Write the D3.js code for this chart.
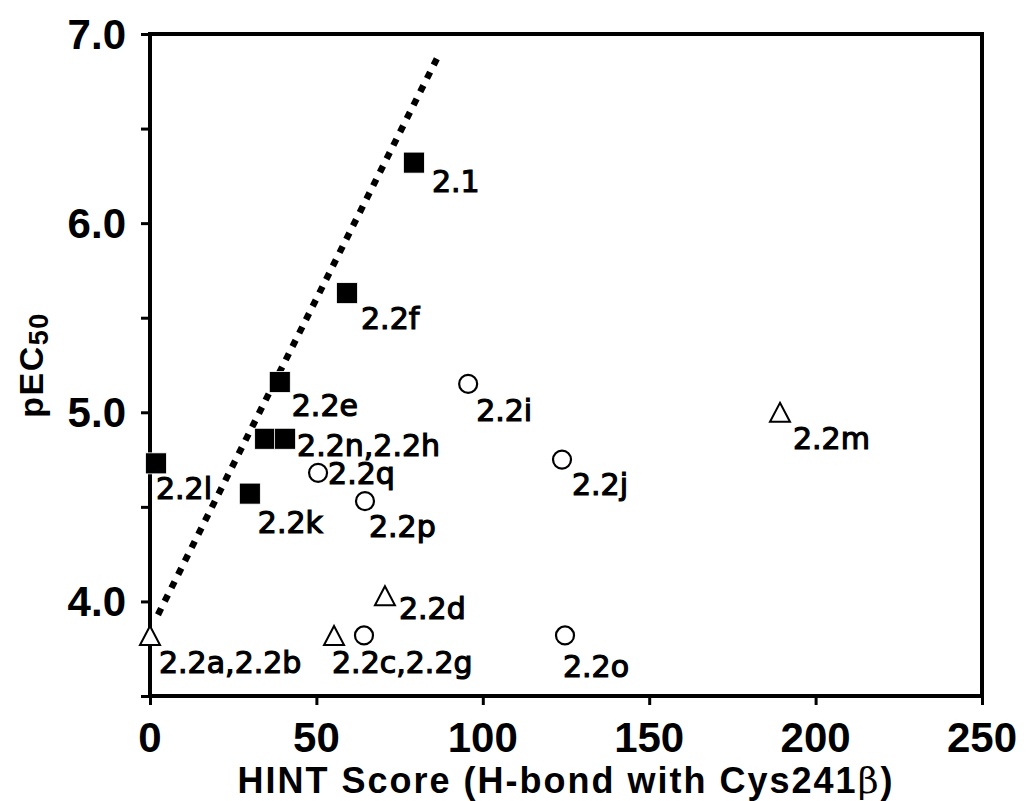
<!DOCTYPE html>
<html>
<head>
<meta charset="utf-8">
<script src="https://cdn.jsdelivr.net/npm/d3@7"></script>
<style>
  body { margin: 0; background: #fff; }
  svg { display: block; }
</style>
</head>
<body>
<div id="chart-area"></div>
<script>
// filled squares
var squareNames = ["2.1", "2.2f", "2.2e", "2.2n", "2.2h", "2.2l", "2.2k"];
var squareX = [79.3, 59.2, 39.0, 34.6, 40.6, 1.8, 30.0];
var squareY = [6.32, 5.63, 5.16, 4.86, 4.86, 4.73, 4.57];

// open circles
var circleNames = ["2.2i", "2.2q", "2.2p", "2.2j", "2.2o", "2.2g"];
var circleX = [95.6, 50.5, 64.6, 123.8, 124.7, 64.3];
var circleY = [5.15, 4.68, 4.53, 4.75, 3.82, 3.82];

// open triangles
var triNames = ["2.2a,2.2b", "2.2c", "2.2d", "2.2m"];
var triX = [0, 55.3, 70.6, 189.3];
var triY = [3.82, 3.82, 4.03, 5.0];

// dotted trend line
var trendX = [2.4, 86.2];
var trendY = [3.93, 6.87];

var xTicks = [0, 50, 100, 150, 200, 250];
var yTicks = [3.5, 4.0, 4.5, 5.0, 5.5, 6.0, 6.5, 7.0];
var yTickLabels = ["", "4.0", "", "5.0", "", "6.0", "", "7.0"];

// point labels: text, anchor point name, offset in px
var labels = [
    {text: "2.1", at: "2.1", dx: 18, dy: 29},
    {text: "2.2f", at: "2.2f", dx: 14, dy: 36},
    {text: "2.2e", at: "2.2e", dx: 12, dy: 34},
    {text: "2.2n,2.2h", at: "2.2h", dx: 12, dy: 17},
    {text: "2.2l", at: "2.2l", dx: 0, dy: 36},
    {text: "2.2k", at: "2.2k", dx: 8, dy: 39},
    {text: "2.2q", at: "2.2q", dx: 10, dy: 11},
    {text: "2.2p", at: "2.2p", dx: 4, dy: 36},
    {text: "2.2i", at: "2.2i", dx: 8, dy: 37},
    {text: "2.2j", at: "2.2j", dx: 10, dy: 35},
    {text: "2.2m", at: "2.2m", dx: 13, dy: 37},
    {text: "2.2d", at: "2.2d", dx: 14, dy: 23},
    {text: "2.2a,2.2b", at: "2.2a,2.2b", dx: 9, dy: 38},
    {text: "2.2c,2.2g", at: "2.2c", dx: -2, dy: 38},
    {text: "2.2o", at: "2.2o", dx: -2, dy: 42}
];

var width = 1027;
var height = 801;
var plotLeft = 150, plotRight = 982, plotTop = 34, plotBottom = 696;

var svg = d3.select("#chart-area")
    .append("svg")
        .attr("width", width)
        .attr("height", height);

var x = d3.scaleLinear()
    .domain([0, 250])
    .range([plotLeft, plotRight]);

var y = d3.scaleLinear()
    .domain([3.5, 7.0])
    .range([plotBottom, plotTop]);

// axes
var leftAxis = d3.axisLeft(y).tickValues(yTicks).tickSize(9).tickFormat("");
svg.append("g")
    .attr("transform", "translate(" + plotLeft + ",0)")
    .call(leftAxis)
    .call(g => g.select(".domain").remove())
    .selectAll("line").attr("stroke", "#000").attr("stroke-width", 3);

var bottomAxis = d3.axisBottom(x).tickValues(xTicks).tickSize(9).tickFormat("");
svg.append("g")
    .attr("transform", "translate(0," + plotBottom + ")")
    .call(bottomAxis)
    .call(g => g.select(".domain").remove())
    .selectAll("line").attr("stroke", "#000").attr("stroke-width", 3);

// frame
svg.append("rect")
    .attr("x", plotLeft)
    .attr("y", plotTop)
    .attr("width", plotRight - plotLeft)
    .attr("height", plotBottom - plotTop)
    .attr("fill", "none")
    .attr("stroke", "#000")
    .attr("stroke-width", 4);

// tick labels
svg.append("g").selectAll("text")
    .data(yTicks)
    .enter().append("text")
        .attr("x", 126)
        .attr("y", (d) => y(d) + 15)
        .attr("text-anchor", "end")
        .attr("font-family", "Liberation Sans, Arial, sans-serif")
        .attr("font-weight", "bold")
        .attr("font-size", "42px")
        .text((d, i) => yTickLabels[i]);

svg.append("g").selectAll("text")
    .data(xTicks)
    .enter().append("text")
        .attr("x", (d) => x(d))
        .attr("y", 752)
        .attr("text-anchor", "middle")
        .attr("font-family", "Liberation Sans, Arial, sans-serif")
        .attr("font-weight", "bold")
        .attr("font-size", "42px")
        .text((d) => d);

// axis titles
var xTitle = svg.append("text")
    .attr("x", (plotLeft + plotRight) / 2)
    .attr("y", 793)
    .attr("text-anchor", "middle")
    .attr("font-family", "Liberation Sans, Arial, sans-serif")
    .attr("font-weight", "bold")
    .attr("font-size", "36px")
    .attr("letter-spacing", "2px");
xTitle.append("tspan").text("HINT Score (H-bond with Cys241");
xTitle.append("tspan").attr("font-weight", "normal").attr("font-family", "DejaVu Serif, serif").text("β");
xTitle.append("tspan").text(")");

var yLabel = svg.append("text")
    .attr("transform", "translate(43," + ((plotTop + plotBottom) / 2) + ") rotate(-90)")
    .attr("text-anchor", "middle")
    .attr("font-family", "Liberation Sans, Arial, sans-serif")
    .attr("font-weight", "bold")
    .attr("font-size", "34px")
    .attr("letter-spacing", "1.5px");
yLabel.append("tspan").text("pEC");
yLabel.append("tspan").attr("font-size", "27px").attr("dy", 5).text("50");

// dotted line
var trend = trendX.map((d, i) => [d, trendY[i]]);
svg.append("path")
    .attr("d", d3.line().x((d) => x(d[0])).y((d) => y(d[1]))(trend))
    .attr("fill", "none")
    .attr("stroke", "#000")
    .attr("stroke-width", 6.5)
    .attr("stroke-dasharray", "7,8");

// markers
var pos = {};

var squares = squareNames.map((n, i) => ({name: n, x: squareX[i], y: squareY[i]}));
var circles = circleNames.map((n, i) => ({name: n, x: circleX[i], y: circleY[i]}));
var tris = triNames.map((n, i) => ({name: n, x: triX[i], y: triY[i]}));
squares.concat(circles, tris).forEach((d) => { pos[d.name] = [x(d.x), y(d.y)]; });

svg.append("g").selectAll("rect")
    .data(squares)
    .enter().append("rect")
        .attr("x", (d) => x(d.x) - 10.5)
        .attr("y", (d) => y(d.y) - 10.5)
        .attr("width", 21)
        .attr("height", 21)
        .attr("fill", "#000")
        .attr("stroke", "#fff")
        .attr("stroke-width", 0.8);

svg.append("g").selectAll("circle")
    .data(circles)
    .enter().append("circle")
        .attr("cx", (d) => x(d.x))
        .attr("cy", (d) => y(d.y))
        .attr("r", 9)
        .attr("fill", "#fff")
        .attr("stroke", "#000")
        .attr("stroke-width", 2.2);

svg.append("g").selectAll("path")
    .data(tris)
    .enter().append("path")
        .attr("d", (d) => {
            var cx = x(d.x), cy = y(d.y);
            return "M" + cx + "," + (cy - 9.5) + "L" + (cx + 10) + "," + (cy + 9.5) + "L" + (cx - 10) + "," + (cy + 9.5) + "Z";
        })
        .attr("fill", "#fff")
        .attr("stroke", "#000")
        .attr("stroke-width", 2)
        .attr("stroke-linejoin", "miter");

// point labels
svg.append("g").selectAll("text")
    .data(labels)
    .enter().append("text")
        .attr("x", (d) => pos[d.at][0] + d.dx)
        .attr("y", (d) => pos[d.at][1] + d.dy)
        .attr("font-family", "DejaVu Sans, sans-serif")
        .attr("font-size", "30px")
        .attr("fill", "#000")
        .attr("stroke", "#000")
        .attr("stroke-width", 1.2)
        .text((d) => d.text);
</script>
</body>
</html>
